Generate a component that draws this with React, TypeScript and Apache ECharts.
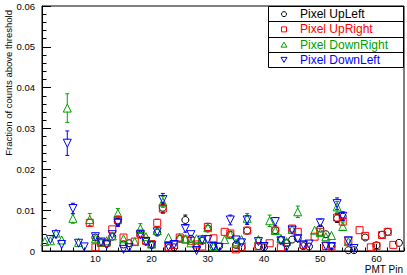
import React, { useEffect, useRef } from "react";
import * as echarts from "echarts";

type Pt = [number, number, number]; // [pin, fraction, error]

const xRange = [0.5, 64.9];
const yRange = [0, 0.06];
const yStep = 0.01;

const seriesNames = ["Pixel UpLeft", "Pixel UpRight", "Pixel DownRight", "Pixel DownLeft"];
const seriesColors = ["#000000", "#ff0000", "#00a000", "#0000ff"];
const seriesSymbols = ["circle", "rect", "triangle", "triangle"];
const seriesRotations = [0, 0, 0, 180];

const upLeft: Pt[] = [
  [10, 0.0033, 0.0006], [11, 0.0021, 0.0005], [12, 0.0018, 0.0005], [13, 0.0035, 0.0006],
  [14, 0.0072, 0.0009], [15, 0.0016, 0.0005], [16, 0.0019, 0.0005], [18, 0.004, 0.0007],
  [19, 0.0023, 0.0005], [20, 0.0015, 0.0005], [21, 0.0045, 0.0007], [22, 0.0106, 0.0012],
  [23, 0.0007, 0.0004], [24, 0.0009, 0.0004], [25, 0.003, 0.0006], [26, 0.0076, 0.0012],
  [27, 0.003, 0.0006], [28, 0.0009, 0.0004], [29, 0.0025, 0.0006], [30, 0.0055, 0.0008],
  [31, 0.0011, 0.0004], [32, 0.0011, 0.0004], [34, 0.004, 0.0007], [35, 0.0015, 0.0005],
  [36, 0.0009, 0.0004], [37, 0.005, 0.0008], [39, 0.0012, 0.0004], [40, 0.0009, 0.0004],
  [42, 0.0051, 0.0008], [43, 0.0027, 0.0006], [44, 0.0019, 0.0005], [45, 0.0028, 0.0006],
  [46, 0.0031, 0.0006], [47, 0.0012, 0.0004], [48, 0.0011, 0.0004], [50, 0.0055, 0.0008],
  [51, 0.0041, 0.0007], [52, 0.0012, 0.0004], [53, 0.008, 0.001], [54, 0.0084, 0.001],
  [55, 0.0002, 0.0002], [56, 0.0002, 0.0002], [58, 0.0033, 0.0006], [60, 0.0014, 0.0004],
  [61, 0.004, 0.0007], [62, 0.0047, 0.0007], [64, 0.002, 0.0005],
];

const upRight: Pt[] = [
  [9, 0.0069, 0.0009], [10, 0.0009, 0.0004], [11, 0.002, 0.0005], [12, 0.002, 0.0005],
  [13, 0.0053, 0.0008], [14, 0.0076, 0.001], [15, 0.0033, 0.0006], [17, 0.0023, 0.0005],
  [18, 0.0043, 0.0007], [19, 0.0025, 0.0006], [20, 0.0017, 0.0005], [21, 0.0069, 0.0009],
  [22, 0.0104, 0.0012], [23, 0.001, 0.0004], [24, 0.0015, 0.0005], [25, 0.0033, 0.0006],
  [26, 0.0028, 0.0006], [27, 0.0025, 0.0006], [28, 0.0016, 0.0005], [29, 0.0011, 0.0004],
  [30, 0.0059, 0.0009], [31, 0.0031, 0.0006], [33, 0.0047, 0.0007], [34, 0.0043, 0.0007],
  [35, 0.0004, 0.0003], [36, 0.0009, 0.0004], [37, 0.005, 0.0008], [39, 0.0012, 0.0004],
  [41, 0.0019, 0.0005], [42, 0.005, 0.0008], [43, 0.0009, 0.0004], [45, 0.0055, 0.0008],
  [46, 0.0047, 0.0007], [47, 0.0015, 0.0005], [49, 0.0035, 0.0006], [50, 0.0047, 0.0007],
  [51, 0.0012, 0.0004], [52, 0.0011, 0.0004], [53, 0.0082, 0.001], [54, 0.0072, 0.0009],
  [55, 0.0025, 0.0006], [57, 0.0051, 0.0008], [58, 0.0037, 0.0006], [59, 0.0009, 0.0004],
  [60, 0.0012, 0.0004], [61, 0.0039, 0.0007], [62, 0.0047, 0.0007], [63, 0.0015, 0.0005],
];

const downRight: Pt[] = [
  [1, 0.0023, 0.0005], [2, 0.0025, 0.0006], [3, 0.0044, 0.0007], [4, 0.0027, 0.0006],
  [5, 0.035, 0.0035], [6, 0.008, 0.0012], [7, 0.0021, 0.0005], [9, 0.0077, 0.0015],
  [10, 0.003, 0.0006], [11, 0.0022, 0.0005], [12, 0.0025, 0.0006], [13, 0.0037, 0.0006],
  [14, 0.0092, 0.0012], [15, 0.003, 0.0006], [17, 0.0023, 0.0005], [18, 0.0055, 0.0012],
  [19, 0.0035, 0.0006], [20, 0.0017, 0.0005], [21, 0.005, 0.0008], [22, 0.012, 0.0013],
  [23, 0.0033, 0.0007], [25, 0.0033, 0.0006], [26, 0.003, 0.0006], [27, 0.002, 0.0005],
  [28, 0.003, 0.0006], [29, 0.003, 0.0006], [30, 0.0057, 0.0008], [31, 0.0011, 0.0004],
  [33, 0.0028, 0.0006], [34, 0.004, 0.0007], [35, 0.0019, 0.0005], [36, 0.0028, 0.0006],
  [37, 0.008, 0.0012], [39, 0.0028, 0.0006], [41, 0.0074, 0.0014], [42, 0.005, 0.0008],
  [43, 0.0031, 0.0006], [44, 0.0023, 0.0005], [45, 0.0053, 0.0008], [46, 0.0096, 0.0014],
  [49, 0.0051, 0.0008], [50, 0.0045, 0.0007], [51, 0.0035, 0.0006], [52, 0.0038, 0.0006],
  [53, 0.0108, 0.0013], [54, 0.006, 0.0009], [55, 0.0023, 0.0005],
];

const downLeft: Pt[] = [
  [2, 0.0028, 0.0006], [3, 0.004, 0.0007], [4, 0.0016, 0.0005], [5, 0.0264, 0.003],
  [6, 0.0104, 0.0013], [7, 0.0019, 0.0005], [8, 0.001, 0.0004], [10, 0.0035, 0.0006],
  [11, 0.0022, 0.0005], [12, 0.0015, 0.0005], [13, 0.004, 0.0007], [14, 0.0069, 0.0009],
  [15, 0.0004, 0.0003], [16, 0.0008, 0.0004], [18, 0.004, 0.0007], [19, 0.0023, 0.0005],
  [20, 0.0013, 0.0004], [21, 0.0047, 0.0007], [22, 0.0126, 0.0015], [23, 0.0011, 0.0004],
  [24, 0.0016, 0.0005], [26, 0.0055, 0.0009], [27, 0.004, 0.0007], [28, 0.0001, 0.0002],
  [29, 0.0027, 0.0006], [30, 0.0028, 0.0006], [31, 0.0011, 0.0004], [32, 0.0009, 0.0004],
  [34, 0.0076, 0.0012], [35, 0.0027, 0.0006], [36, 0.002, 0.0005], [37, 0.0076, 0.0011],
  [39, 0.0023, 0.0005], [40, 0.0011, 0.0004], [42, 0.0072, 0.001], [43, 0.0025, 0.0006],
  [44, 0.0009, 0.0004], [45, 0.0051, 0.0008], [46, 0.003, 0.0006], [47, 0.0015, 0.0005],
  [48, 0.0017, 0.0005], [50, 0.0069, 0.0009], [51, 0.0012, 0.0004], [52, 0.0011, 0.0004],
  [53, 0.0116, 0.0014], [54, 0.0085, 0.0011], [55, 0.0025, 0.0006], [56, 0.0006, 0.0003],
];

const allSeries = [upLeft, upRight, downRight, downLeft];

const FONT = "'Liberation Sans', Arial, Helvetica, sans-serif";

function legendMarker(i: number, cx: number, cy: number): any {
  const style = { fill: "none", stroke: seriesColors[i], lineWidth: 1 };
  if (seriesSymbols[i] === "circle") return { type: "circle", shape: { cx, cy, r: 2.5 }, style };
  if (seriesSymbols[i] === "rect") return { type: "rect", shape: { x: cx - 2.5, y: cy - 2.5, width: 5, height: 5 }, style };
  if (seriesRotations[i] === 180)
    return { type: "polygon", shape: { points: [[cx - 3, cy - 2.5], [cx + 3, cy - 2.5], [cx, cy + 2.5]] }, style };
  return { type: "polygon", shape: { points: [[cx - 3, cy + 2.5], [cx + 3, cy + 2.5], [cx, cy - 2.5]] }, style };
}

export default function App() {
  const ref = useRef<HTMLDivElement>(null);
  useEffect(() => {
    document.body.style.margin = "0";
    if (!ref.current) return;
    const chart = echarts.init(ref.current, undefined, { renderer: "svg" });

    const series: any[] = [];
    allSeries.forEach((data, i) => {
      const color = seriesColors[i];
      series.push({
        type: "custom",
        name: seriesNames[i] + " err",
        xAxisIndex: 0,
        yAxisIndex: 0,
        dimensions: ["x", "y", "err"],
        encode: { x: 0, y: 1 },
        data,
        clip: true,
        z: 2,
        renderItem: (params: any, api: any) => {
          const x = api.value(0) as number;
          const y = api.value(1) as number;
          const e = api.value(2) as number;
          const c = api.coord([x, y]);
          const t = api.coord([x, y + e]);
          const b = api.coord([x, Math.max(0, y - e)]);
          const gap = 3.5;
          const cap = 2;
          const style = { stroke: color, lineWidth: 1, fill: "none" };
          const children: any[] = [];
          if (c[1] - t[1] > gap) {
            children.push({ type: "line", shape: { x1: c[0], y1: t[1], x2: c[0], y2: c[1] - gap }, style });
            children.push({ type: "line", shape: { x1: c[0] - cap, y1: t[1], x2: c[0] + cap, y2: t[1] }, style });
          }
          if (b[1] - c[1] > gap) {
            children.push({ type: "line", shape: { x1: c[0], y1: c[1] + gap, x2: c[0], y2: b[1] }, style });
            children.push({ type: "line", shape: { x1: c[0] - cap, y1: b[1], x2: c[0] + cap, y2: b[1] }, style });
          }
          return { type: "group", children };
        },
      });
      series.push({
        type: "scatter",
        name: seriesNames[i],
        xAxisIndex: 0,
        yAxisIndex: 0,
        data: data.map((d) => [d[0], d[1]]),
        symbol: seriesSymbols[i],
        symbolRotate: seriesRotations[i],
        symbolSize: seriesSymbols[i] === "triangle" ? 8 : 7,
        itemStyle: { color: "rgba(0,0,0,0)", borderColor: color, borderWidth: 1, opacity: 1 },
        z: 3,
      });
    });

    const legTop = 6;
    const legRowH = 15.25;
    const legendEls: any[] = [
      {
        type: "rect",
        shape: { x: 268.5, y: legTop + 0.5, width: 135, height: legRowH * 4 },
        style: { fill: "#ffffff", stroke: "#000000", lineWidth: 1 },
      },
    ];
    for (let i = 1; i < 4; i++) {
      const yy = Math.round(legTop + legRowH * i) + 0.5;
      legendEls.push({
        type: "line",
        shape: { x1: 268.5, y1: yy, x2: 403.5, y2: yy },
        style: { stroke: "#000000", lineWidth: 1 },
      });
    }
    seriesNames.forEach((name, i) => {
      const cy = legTop + legRowH * (i + 0.5) + 0.5;
      legendEls.push(legendMarker(i, 284, cy));
      legendEls.push({
        type: "text",
        x: 300,
        y: cy,
        style: { text: name, fill: seriesColors[i], font: `12px ${FONT}`, align: "left", verticalAlign: "middle" },
      });
    });

    chart.setOption({
      animation: false,
      backgroundColor: "#ffffff",
      grid: {
        left: 42,
        right: 3,
        top: 6,
        bottom: 24,
        show: true,
        borderColor: "#000000",
        borderWidth: 1,
        backgroundColor: "transparent",
      },
      xAxis: [
        {
          type: "value",
          min: xRange[0],
          max: xRange[1],
          splitNumber: 6,
          position: "bottom",
          axisLine: { show: true, lineStyle: { color: "#000000", width: 1 } },
          axisTick: { show: true, inside: true, length: 7, lineStyle: { color: "#000000" } },
          axisLabel: {
            show: true,
            margin: 2,
            color: "#000000",
            fontFamily: FONT,
            fontSize: 9.5,
            lineHeight: 10,
            showMinLabel: false,
            showMaxLabel: false,
          },
          splitLine: { show: false },
        },
        {
          type: "value",
          min: xRange[0],
          max: xRange[1],
          splitNumber: 32,
          position: "bottom",
          axisLine: { show: false },
          axisTick: { show: true, inside: true, length: 3.5, lineStyle: { color: "#000000" } },
          axisLabel: { show: false },
          splitLine: { show: false },
        },
      ],
      yAxis: {
        type: "value",
        min: yRange[0],
        max: yRange[1],
        interval: yStep,
        axisLine: { show: true, lineStyle: { color: "#000000", width: 1 } },
        axisTick: { show: true, inside: true, length: 9, lineStyle: { color: "#000000" } },
        minorTick: { show: true, splitNumber: 5, length: 4.5, lineStyle: { color: "#000000" } },
        axisLabel: {
          margin: 7,
          color: "#000000",
          fontFamily: FONT,
          fontSize: 9.5,
          formatter: (v: number) => (v === 0 ? "0" : v.toFixed(2)),
        },
        splitLine: { show: false },
      },
      graphic: [
        {
          type: "text",
          x: 8,
          y: 10,
          rotation: Math.PI / 2,
          style: {
            text: "Fraction of counts above threshold",
            fill: "#000000",
            font: `9.5px ${FONT}`,
            align: "right",
            verticalAlign: "middle",
          },
        },
        {
          type: "text",
          x: 403,
          y: 269.5,
          style: { text: "PMT Pin", fill: "#000000", font: `10px ${FONT}`, align: "right", verticalAlign: "middle" },
        },
        ...legendEls,
      ],
      series,
    });

    return () => chart.dispose();
  }, []);

  return <div ref={ref} style={{ width: 407, height: 275 }} />;
}
